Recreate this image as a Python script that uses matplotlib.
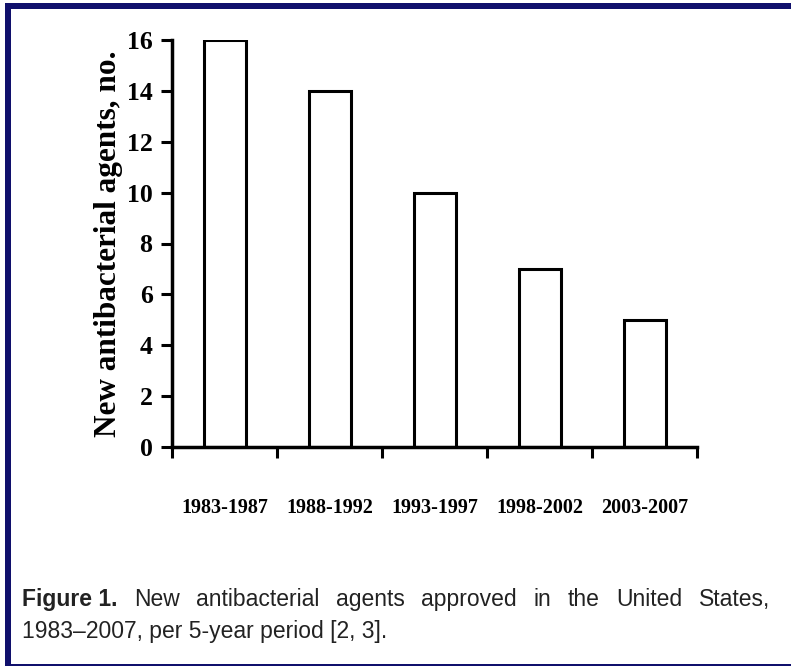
import matplotlib
matplotlib.use('Agg')
import matplotlib.pyplot as plt
from matplotlib.patches import Rectangle

# data
periods = ['1983-1987', '1988-1992', '1993-1997', '1998-2002', '2003-2007']
agents = [16, 14, 10, 7, 5]

caption_bold = 'Figure 1.'
caption_line1 = 'New antibacterial agents approved in the United States,'
caption_line2 = '1983\u20132007, per 5-year period [2, 3].'

W, H = 791, 667
fig = plt.figure(figsize=(W / 100, H / 100), dpi=100)
fig.patch.set_facecolor('white')

serif = ['Liberation Serif', 'DejaVu Serif']
narrow = ['Liberation Sans Narrow', 'Liberation Sans', 'DejaVu Sans']

ax = fig.add_axes([172 / W, 1 - 447 / H, (697 - 172) / W, (447 - 40) / H])
x = list(range(len(periods)))
ax.bar(x, agents, width=0.4, color='white', edgecolor='black', linewidth=2.2)

ax.set_xlim(-0.5, len(periods) - 0.5)
ax.set_ylim(0, 16)
ax.set_yticks(range(0, 17, 2))
for lbl in ax.get_yticklabels():
    lbl.set_family(serif)
    lbl.set_fontweight('bold')
    lbl.set_fontsize(18.5)

# boundary ticks on the x axis, labels centred under bars
ax.set_xticks([i - 0.5 for i in range(len(periods) + 1)])
ax.set_xticklabels([])
ax.set_xticks(x, minor=True)
ax.set_xticklabels(periods, minor=True, family=serif, fontweight='bold', fontsize=14.5)
ax.tick_params(axis='x', which='minor', length=0, pad=37)
ax.tick_params(axis='both', which='major', direction='out', length=8, width=2.2, pad=6)

for s in ['top', 'right']:
    ax.spines[s].set_visible(False)
for s in ['left', 'bottom']:
    ax.spines[s].set_linewidth(2.5)

ax.set_ylabel('New antibacterial agents, no.', family=serif, fontweight='bold', fontsize=22.5)
ax.yaxis.set_label_coords(-0.093, 0.5)

# frame
navy = '#10106c'
fig.add_artist(Rectangle((5 / W, 1 - 9 / H), 1 - 5 / W, 6 / H, transform=fig.transFigure,
                         facecolor=navy, edgecolor='none'))
fig.add_artist(Rectangle((5 / W, 1 - 666 / H), 6 / W, (666 - 3) / H, transform=fig.transFigure,
                         facecolor=navy, edgecolor='none'))
fig.add_artist(Rectangle((5 / W, 1 - 666 / H), 1 - 5 / W, 2 / H, transform=fig.transFigure,
                         facecolor=navy, edgecolor='none'))

# caption, first line justified between x=22 and x=770
fig.canvas.draw()
renderer = fig.canvas.get_renderer()
cap_size = 16.5
cap_color = '#222222'
y1 = 1 - 606 / H
y2 = 1 - 638 / H
words = [(caption_bold, 'bold')] + [(w, 'normal') for w in caption_line1.split()]
texts = []
total = 0
for w, wt in words:
    t = fig.text(0, y1, w, family=narrow, fontweight=wt, fontsize=cap_size, color=cap_color,
                 ha='left', va='baseline')
    wpx = t.get_window_extent(renderer).width
    texts.append((t, wpx))
    total += wpx
gap = (770 - 22 - total) / (len(texts) - 1)
xpos = 22
for i, (t, wpx) in enumerate(texts):
    t.set_x(xpos / W)
    xpos += wpx + gap
fig.text(22 / W, y2, caption_line2, family=narrow, fontsize=cap_size, color=cap_color,
         ha='left', va='baseline')

fig.savefig('out.png', dpi=100)
